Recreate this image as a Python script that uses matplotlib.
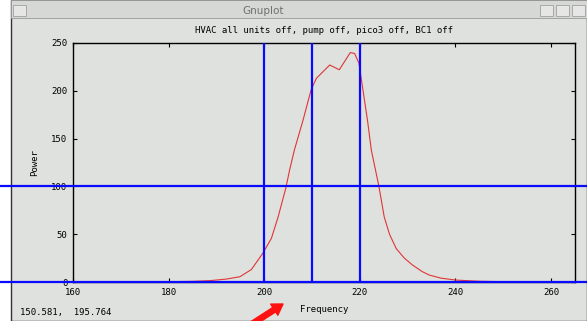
import matplotlib
matplotlib.use("Agg")
import matplotlib.pyplot as plt
from matplotlib.patches import Rectangle

# spectrum
freq = [160, 170, 180, 185, 188.6, 192, 194.9, 197.3, 199.7, 201.5, 202.9, 203.7, 204.5,
        205.3, 206.3, 208.1, 209.8, 210.9, 213.7, 215.7, 218.0, 218.9, 219.8,
        221.6, 222.4, 224.0, 225.1, 226.2, 227.6, 229.3, 231.0, 233.0, 234.5, 237.0,
        240.1, 245, 250, 265]
power = [0, 0, 0.3, 0.7, 1.4, 3, 5.5, 13, 30, 45.7, 68, 83, 98,
         117, 138, 169, 201, 213, 227, 222, 240, 239, 229,
         169, 138, 99.7, 68, 50, 35, 25, 17.8, 11, 7.3, 4,
         2, 0.8, 0.3, 0]
vlines = [200, 210, 220]
hlines = [100, 0]
xticks = [160, 180, 200, 220, 240, 260]
yticks = [0, 50, 100, 150, 200, 250]

W, H = 587, 321
fig = plt.figure(figsize=(W / 100, H / 100), dpi=100)
fig.patch.set_facecolor("white")

bg = "#dfe1de"
mono = "DejaVu Sans Mono"

# window frame
fig.patches.append(Rectangle((11 / W, 0), (W - 11) / W, 1, transform=fig.transFigure,
                             facecolor=bg, edgecolor="#333333", lw=1.0, zorder=-2))
fig.patches.append(Rectangle((11 / W, 1 - 18 / H), (W - 11) / W, 18 / H, transform=fig.transFigure,
                             facecolor="#d6d8d5", edgecolor="#9a9a9a", lw=0.6, zorder=-1))
for bx in [540, 556, 572]:
    fig.patches.append(Rectangle((bx / W, 1 - 16 / H), 13 / W, 11 / H, transform=fig.transFigure,
                                 facecolor="#e6e6e6", edgecolor="#a0a0a0", lw=0.6, zorder=1))
fig.patches.append(Rectangle((13 / W, 1 - 16 / H), 13 / W, 11 / H, transform=fig.transFigure,
                             facecolor="#e6e6e6", edgecolor="#a0a0a0", lw=0.6, zorder=1))
fig.text(263 / W, 1 - 11 / H, "Gnuplot", ha="center", va="center", fontsize=7.5,
         color="#707070")

ax = fig.add_axes([73 / W, 39 / H, (575 - 73) / W, (282 - 43) / H])
ax.set_zorder(2)
ax.set_facecolor(bg)
ax.plot(freq, power, color="#e03535", lw=0.8)
ax.set_xlim(160, 265)
ax.set_ylim(0, 250)
ax.set_xticks(xticks)
ax.set_yticks(yticks)
ax.tick_params(direction="in", length=3, width=0.8, top=True, right=True,
               labelsize=6.5, pad=4, colors="black")
for lab in ax.get_xticklabels() + ax.get_yticklabels():
    lab.set_family(mono)
for s in ax.spines.values():
    s.set_linewidth(1.0)

for v in vlines:
    ax.axvline(v, color="#0a0aff", lw=1.6, zorder=5)
for h in hlines:
    ax.axhline(h, xmin=-73 / 502, xmax=(W - 73) / 502, color="#0a0aff", lw=1.6,
               clip_on=False, zorder=5)

ax.set_title("HVAC all units off, pump off, pico3 off, BC1 off", fontsize=6.5,
             family=mono, pad=7)
ax.set_xlabel("Frequency", fontsize=6.5, family=mono, labelpad=6)
ax.set_ylabel("Power", fontsize=6.5, family=mono, labelpad=9)

fig.text(20 / W, 1 - 313 / H, "150.581,  195.764", fontsize=6.5, family=mono, va="center")

# red pointer arrow at the bottom
ax.annotate("", xy=(283, H - 304), xytext=(252, H - 324), xycoords="figure pixels",
            textcoords="figure pixels", annotation_clip=False,
            arrowprops=dict(arrowstyle="simple,head_length=0.75,head_width=0.95,tail_width=0.38",
                            mutation_scale=10, color="#ff1010", shrinkA=0, shrinkB=0))

fig.savefig("out.png", dpi=100)
